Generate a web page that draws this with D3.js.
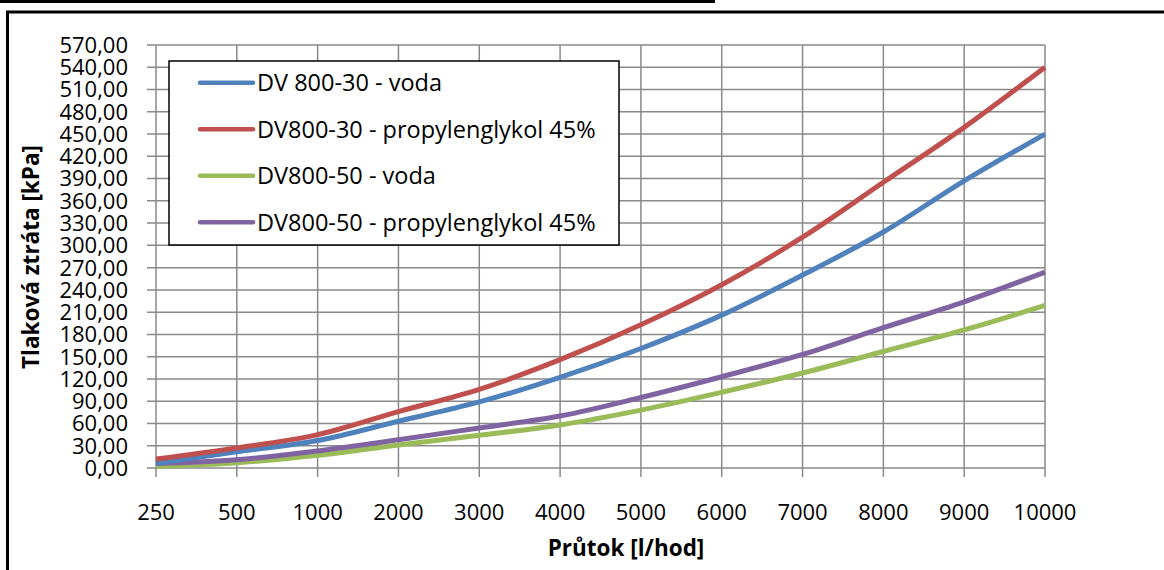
<!DOCTYPE html>
<html><head><meta charset="utf-8">
<script src="https://cdn.jsdelivr.net/npm/d3@7"></script>
<style>
html,body{margin:0;padding:0;background:#fff;}
svg{display:block;font-family:"Open Sans",sans-serif;}
</style></head>
<body>
<svg id="c" width="1164" height="570"></svg>
<script>
const categories = ["250","500","1000","2000","3000","4000","5000","6000","7000","8000","9000","10000"];
const seriesNames = ["DV 800-30 - voda","DV800-30 - propylenglykol 45%","DV800-50 - voda","DV800-50 - propylenglykol 45%"];
const seriesColors = ["#4F81BD","#C0504D","#9BBB59","#8064A2"];
const dv30voda   = [6, 22, 37, 63, 89, 122, 161, 206, 260, 318, 387, 450];
const dv30glykol = [12, 27, 45, 76, 106, 146, 193, 247, 311, 385, 459, 540];
const dv50voda   = [2, 7, 17, 31, 44, 58, 78, 102, 128, 157, 186, 219];
const dv50glykol = [6, 11, 23, 38, 54, 70, 95, 123, 153, 189, 224, 264];
const yTicks = d3.range(0, 571, 30);
const xTitle = "Průtok [l/hod]";
const yTitle = "Tlaková ztráta [kPa]";

const seriesValues = [dv30voda, dv30glykol, dv50voda, dv50glykol];
const svg = d3.select("#c");

// outer frame decorations
svg.append("rect").attr("x",0).attr("y",0).attr("width",715).attr("height",3).attr("fill","#000");
svg.append("path").attr("d","M7.5,600 V12 H1200").attr("fill","none").attr("stroke","#000").attr("stroke-width",3);

const L = 156, R = 1045, T = 45, B = 468;
const x = d3.scalePoint().domain(categories).range([L, R]);
const y = d3.scaleLinear().domain([0, 570]).range([B, T]);
const fmt = v => d3.format(".2f")(v).replace(".", ",");
const grid = "#8a8a8a";

// horizontal gridlines
svg.append("g").selectAll("line").data(yTicks).join("line")
  .attr("x1", L - 9).attr("x2", R).attr("y1", d => y(d)).attr("y2", d => y(d))
  .attr("stroke", grid).attr("stroke-width", 1.5);
// vertical gridlines
svg.append("g").selectAll("line").data(categories).join("line")
  .attr("x1", d => x(d)).attr("x2", d => x(d)).attr("y1", T).attr("y2", B + 9)
  .attr("stroke", grid).attr("stroke-width", 1.5);

// y labels
svg.append("g").selectAll("text").data(yTicks).join("text")
  .attr("x", 128).attr("y", d => y(d)).attr("dy", "0.36em")
  .attr("text-anchor", "end").attr("font-size", 22).attr("fill", "#000")
  .text(fmt);
// x labels
svg.append("g").selectAll("text").data(categories).join("text")
  .attr("x", d => x(d)).attr("y", 512).attr("dy", "0.36em")
  .attr("text-anchor", "middle").attr("font-size", 22).attr("fill", "#000")
  .text(d => d);

// titles
svg.append("text").attr("x", 626).attr("y", 548).attr("dy","0.36em")
  .attr("text-anchor","middle").attr("font-size",22.5).attr("font-weight","bold").text(xTitle);
svg.append("text").attr("transform","translate(31,257) rotate(-90)").attr("dy","0.36em")
  .attr("text-anchor","middle").attr("font-size",22.5).attr("font-weight","bold").text(yTitle);

// series lines
const line = d3.line().x((d,i) => x(categories[i])).y(d => y(d)).curve(d3.curveCatmullRom.alpha(0.5));
const order = [2,3,0,1];
svg.append("g").selectAll("path").data(order).join("path")
  .attr("d", k => line(seriesValues[k]))
  .attr("fill","none").attr("stroke", k => seriesColors[k]).attr("stroke-width", 5)
  .attr("stroke-linejoin","round");

// legend
const lg = svg.append("g");
lg.append("rect").attr("x",169).attr("y",61).attr("width",450).attr("height",184)
  .attr("fill","#fff").attr("stroke","#000").attr("stroke-width",1.5);
const ly = d3.scalePoint().domain(d3.range(4)).range([82.7, 222.3]);
const items = lg.selectAll("g").data(seriesNames).join("g")
  .attr("transform", (d,i) => `translate(0,${ly(i)})`);
items.append("line").attr("x1",200).attr("x2",253).attr("y1",0).attr("y2",0)
  .attr("stroke",(d,i)=>seriesColors[i]).attr("stroke-width",4.5).attr("stroke-linecap","round");
items.append("text").attr("x",257).attr("y",0).attr("dy","0.36em")
  .attr("font-size",23.5).attr("fill","#000").text(d => d);
</script>
</body></html>
